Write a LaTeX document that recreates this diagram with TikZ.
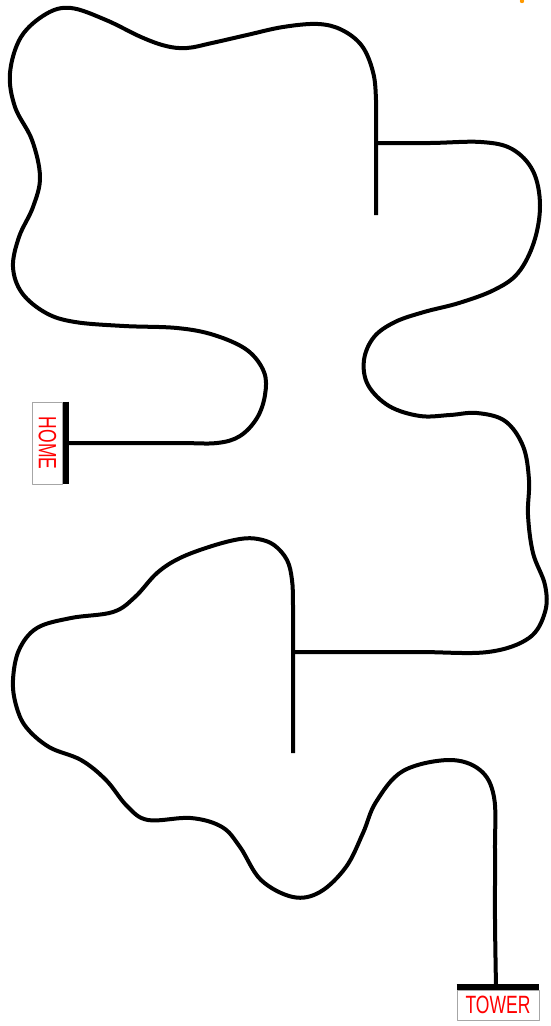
\documentclass[tikz,border=0pt]{standalone}
\usepackage{fontspec}
\setmainfont{Liberation Sans}
\usepackage{tikz}
\usetikzlibrary{calc}
\usetikzlibrary{positioning}
\tikzset{track/.style={line width=4pt,line join=round},
  sign/.style={draw=gray!70,line width=0.8pt,fill=white,inner sep=0pt,minimum width=82pt,minimum height=30pt,text=red,font=\fontsize{25}{25}\selectfont},
  signbar/.style={line width=6pt}}
\newcommand{\signtext}[1]{\scalebox{0.7}[1]{#1}}

\begin{document}
\begin{tikzpicture}[x=1pt,y=-1pt,line join=round]
\useasboundingbox (0,0) rectangle (551,1026);
% --- signs
\node[sign,rotate=-90] (home) at (47.5,443) {\signtext{HOME}};
\node[sign] (tower) at (498,1005) {\signtext{TOWER}};
\draw[signbar] ([xshift=3pt]home.north west) -- ([xshift=3pt]home.north east);
\draw[signbar] ([yshift=3pt]tower.north west) -- ([yshift=3pt]tower.north east);
\coordinate (homeEnd) at ([xshift=3pt]home.north);
\coordinate (towerEnd) at ([xshift=-2pt,yshift=3pt]tower.north);
\coordinate (upJ) at (376,143);
\coordinate (lowJ) at (293,652);
% --- upper loop, down to HOME
\draw[track] plot[smooth,tension=0.6] coordinates {(376,215) (upJ) (376,100) (373,72) (362,46) (342,30) (318,24) (283,27) (247,35) (212,43) (187,48) (166,46) (141,37) (106,20) (71,8) (46,14) (21,37) (10,73) (15,107) (32,140) (40,177) (33,207) (19,237) (13,267) (22,293) (46,313) (75,322) (124,326) (177,328) (214,335) (247,350) (264,372) (265,395) (257,418) (240,436) (217,443) (180,443) (120,443) (homeEnd)};
% --- right branch, upper junction to lower junction
\draw[track] plot[smooth,tension=0.6] coordinates {(upJ) (430,143) (481,142) (512,149) (533,171) (540,205) (534,242) (518,273) (494,290) (459,303) (424,312) (395,322) (374,337) (364,360) (368,385) (389,406) (420,416) (450,415) (477,413) (505,421) (523,446) (529,480) (528,515) (533,553) (545,585) (545,612) (529,638) (488,652) (420,652) (350,652) (lowJ)};
% --- lower loop, on to TOWER
\draw[track] plot[smooth,tension=0.6] coordinates {(293,753) (293,690) (lowJ) (293,605) (292,580) (287,560) (274,545) (258,539) (240,539) (212,546) (180,558) (157,573) (135,597) (113,612) (71,618) (37,628) (19,650) (13,680) (16,705) (26,727) (49,747) (81,760) (106,780) (127,806) (148,820) (191,818) (222,827) (240,847) (261,880) (293,897) (320,892) (346,867) (363,833) (376,802) (403,771) (449,760) (480,770) (494,797) (495,850) (495,920) (towerEnd)};
% --- stray mark, top right
\fill[orange!80!yellow] (522,1) circle (2.2);
\end{tikzpicture}
\end{document}
